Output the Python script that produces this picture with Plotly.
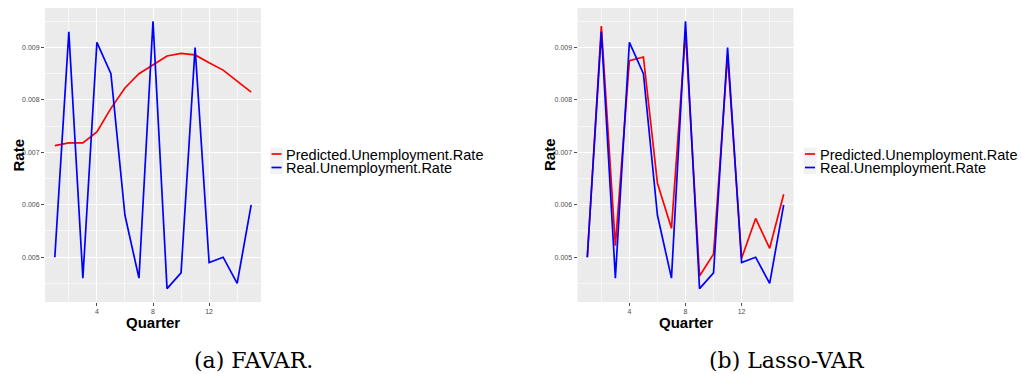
import plotly.graph_objects as go

# Quarterly unemployment rate: observed series and two model forecasts
quarters = list(range(1, 16))
real_rate = [0.0050, 0.0093, 0.0046, 0.0091, 0.0085, 0.0058, 0.0046, 0.0095,
             0.0044, 0.0047, 0.0090, 0.0049, 0.0050, 0.0045, 0.0060]
favar_pred = [0.00713, 0.00718, 0.00718, 0.00739, 0.00784, 0.00823, 0.00850, 0.00867,
              0.00884, 0.00889, 0.00886, 0.00871, 0.00857, 0.00836, 0.00815]
lasso_pred = [0.00500, 0.00941, 0.00522, 0.00875, 0.00882, 0.00641, 0.00555, 0.00929,
              0.00464, 0.00506, 0.00885, 0.00498, 0.00574, 0.00517, 0.00620]

series_names = ["Predicted.Unemployment.Rate", "Real.Unemployment.Rate"]
series_colors = ["#FF0000", "#0000FF"]
x_ticks = [4, 8, 12]
x_minor = [2, 6, 10, 14]
y_ticks = [0.005, 0.006, 0.007, 0.008, 0.009]
y_minor = [0.0045, 0.0055, 0.0065, 0.0075, 0.0085, 0.0095]
captions = ["(a) FAVAR.", "(b) Lasso-VAR"]
x_title = "Quarter"
y_title = "Rate"

W, H = 1022, 374
# panel boxes in pixels: (left, right, top, bottom)
panels = [(45, 261, 8, 302), (577.5, 793.5, 8, 302)]
legend_left = [270, 803.5]
y_title_x = [17.5, 549]


def padded(lo, hi, frac=0.05):
    pad = (hi - lo) * frac
    return [lo - pad, hi + pad]


fig = go.Figure()
panel_series = [[favar_pred, real_rate], [lasso_pred, real_rate]]
for p, series in enumerate(panel_series):
    xa = "x" if p == 0 else "x2"
    ya = "y" if p == 0 else "y2"
    for name, color, vals in zip(series_names, series_colors, series):
        fig.add_trace(go.Scatter(
            x=quarters, y=vals, mode="lines", name=name,
            line=dict(color=color, width=1.7),
            xaxis=xa, yaxis=ya, showlegend=False,
        ))

all_vals = real_rate + favar_pred + lasso_pred
y_range = padded(min(all_vals), max(all_vals))
x_range = [quarters[0] - 0.05 * (quarters[-1] - quarters[0]),
           quarters[-1] + 0.05 * (quarters[-1] - quarters[0])]

sans = "Liberation Sans, Arial, sans-serif"
tick_font = dict(family=sans, size=7, color="#4d4d4d")
title_font = dict(family=sans, size=15, color="#000000", weight="bold")

layout = dict(
    width=W, height=H,
    margin=dict(l=0, r=0, t=0, b=0),
    paper_bgcolor="white",
    plot_bgcolor="#EBEBEB",
    showlegend=False,
)

for p, (x0, x1, y0, y1) in enumerate(panels):
    sfx = "" if p == 0 else "2"
    layout["xaxis" + sfx] = dict(
        domain=[x0 / W, x1 / W], anchor="y" + sfx, range=x_range,
        tickmode="array", tickvals=x_ticks, ticks="outside", ticklen=3,
        tickwidth=1, tickcolor="#4d4d4d", tickfont=tick_font,
        showgrid=True, gridcolor="white", gridwidth=1.2, zeroline=False,
        showline=False, fixedrange=True,
        minor=dict(tickmode="array", tickvals=x_minor, showgrid=True,
                   gridcolor="#F7F7F7", gridwidth=0.6, ticks=""),
        automargin=False,
    )
    layout["yaxis" + sfx] = dict(
        domain=[1 - y1 / H, 1 - y0 / H], anchor="x" + sfx, range=y_range,
        tickmode="array", tickvals=y_ticks, tickformat=".3f", ticks="outside",
        ticklen=3, tickwidth=1, tickcolor="#4d4d4d", tickfont=tick_font,
        showgrid=True, gridcolor="white", gridwidth=1.2, zeroline=False,
        showline=False, fixedrange=True,
        minor=dict(tickmode="array", tickvals=y_minor, showgrid=True,
                   gridcolor="#F7F7F7", gridwidth=0.6, ticks=""),
        automargin=False,
    )

fig.update_layout(**layout)

# axis titles
for (x0, x1, y0, y1), tx in zip(panels, y_title_x):
    fig.add_annotation(text=x_title, xref="paper", yref="paper",
                       x=(x0 + x1) / 2 / W, y=1 - 322 / H,
                       xanchor="center", yanchor="middle", showarrow=False,
                       font=title_font)
    fig.add_annotation(text=y_title, xref="paper", yref="paper",
                       x=tx / W, y=1 - (y0 + y1) / 2 / H, textangle=-90,
                       xanchor="center", yanchor="middle", showarrow=False,
                       font=title_font)

# ggplot-style legends to the right of each panel
legend_font = dict(family=sans, size=14.5, color="#000000")
row_y = [154, 167.5]
for lx in legend_left:
    fig.add_shape(type="rect", xref="paper", yref="paper",
                  x0=lx / W, x1=(lx + 13) / W,
                  y0=1 - 174 / H, y1=1 - 147.5 / H,
                  fillcolor="#F2F2F2", line=dict(width=0), layer="below")
    for name, color, ry in zip(series_names, series_colors, row_y):
        fig.add_shape(type="line", xref="paper", yref="paper",
                      x0=(lx + 1.5) / W, x1=(lx + 11.5) / W,
                      y0=1 - ry / H, y1=1 - ry / H,
                      line=dict(color=color, width=1.7))
        fig.add_annotation(text=name, xref="paper", yref="paper",
                           x=(lx + 14) / W, y=1 - (ry + 0.5) / H,
                           xanchor="left", yanchor="middle", showarrow=False,
                           font=legend_font)

# sub-figure captions
caption_font = dict(family="DejaVu Serif, serif", size=22, color="#000000")
for cx, text in zip([253.5, 786.5], captions):
    fig.add_annotation(text=text, xref="paper", yref="paper",
                       x=cx / W, y=1 - 360 / H, xanchor="center", yanchor="middle",
                       showarrow=False, font=caption_font)

fig.write_html("out.html")
